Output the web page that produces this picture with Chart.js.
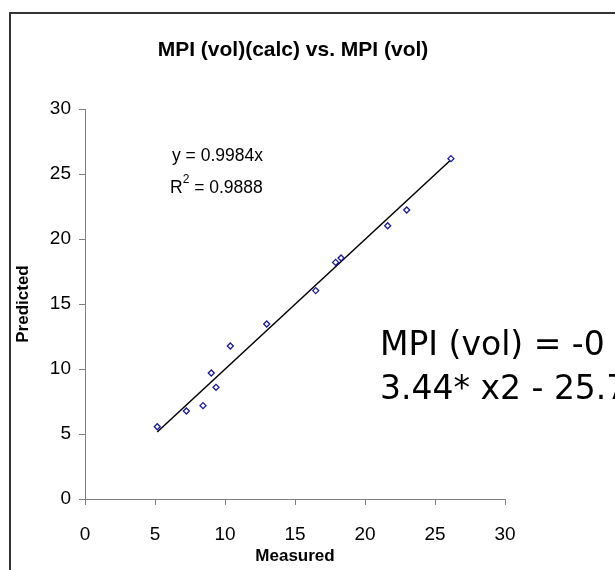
<!DOCTYPE html>
<html>
<head>
<meta charset="utf-8">
<script src="https://cdn.jsdelivr.net/npm/chart.js@4"></script>
<style>
    body { margin: 0; background: #fff; }
    #wrap { position: relative; width: 615px; height: 570px; overflow: hidden; }
</style>
</head>
<body>
<div id="wrap"><canvas id="myChart" width="615" height="570"></canvas></div>
<script>
let measured = [5.16, 7.24, 8.43, 9.02, 9.36, 10.38, 12.98, 16.48, 17.9, 18.29, 21.62, 22.98, 26.14];
let predicted = [5.56, 6.77, 7.18, 9.69, 8.59, 11.77, 13.46, 16.03, 18.2, 18.54, 21.02, 22.23, 26.18];
let trendX = [5.16, 26.14];
let trendY = [5.15, 26.1];
let tickValues = [0, 5, 10, 15, 20, 25, 30];

let chartTitle = 'MPI (vol)(calc) vs. MPI (vol)';
let trendLabel = ['y = 0.9984x', 'R', '2', ' = 0.9888'];
let modelText = ['MPI (vol) = -0', '3.44* x2 - 25.7'];

let sansFont = "'Liberation Sans', Arial, sans-serif";

function buildPoints(xs, ys) {
    let pts = [];
    for (let i = 0; i < xs.length; i++) {
        pts.push({ x: xs[i], y: ys[i] });
    }
    return pts;
}

// frame, title and the text boxes
let extrasPlugin = {
    id: 'extras',
    afterDraw(chart) {
        let c = chart.ctx;
        c.save();
        c.strokeStyle = '#333';
        c.lineWidth = 2;
        c.beginPath();
        c.moveTo(10, 640);
        c.lineTo(10, 13);
        c.lineTo(700, 13);
        c.stroke();

        c.fillStyle = '#000';
        c.textAlign = 'center';
        c.textBaseline = 'middle';
        c.font = 'bold 21px ' + sansFont;
        c.fillText(chartTitle, 293, 50);

        c.textAlign = 'left';
        c.font = '17.5px ' + sansFont;
        c.fillText(trendLabel[0], 172, 156);
        c.fillText(trendLabel[1], 170, 188);
        let rw = c.measureText(trendLabel[1]).width;
        c.font = '12px ' + sansFont;
        c.fillText(trendLabel[2], 170 + rw, 180);
        let sw = c.measureText(trendLabel[2]).width;
        c.font = '17.5px ' + sansFont;
        c.fillText(trendLabel[3], 170 + rw + sw, 188);

        c.font = '33px "DejaVu Sans", Verdana, sans-serif';
        c.fillText(modelText[0], 380, 346);
        c.fillText(modelText[1], 380, 390);
        c.restore();
    }
};

function axisOptions(fixSize) {
    return {
        type: 'linear',
        min: 0,
        max: 30,
        afterBuildTicks: s => { s.ticks = tickValues.map(v => ({ value: v })); },
        afterFit: fixSize,
        border: { display: true, color: '#808080', width: 1 },
        grid: { drawOnChartArea: false, drawTicks: true, tickLength: 6, color: '#808080' },
        ticks: { color: '#000', font: { family: sansFont, size: 19 }, padding: 8 }
    };
}

let xAxis = axisOptions(s => { s.height = 71; });
xAxis.ticks.padding = 18;
xAxis.title = { display: true, text: 'Measured', color: '#000', font: { family: sansFont, size: 17, weight: 'bold' }, padding: { top: 0, bottom: 3 } };

let yAxis = axisOptions(s => { s.width = 75; });
yAxis.title = { display: true, text: 'Predicted', color: '#000', font: { family: sansFont, size: 17, weight: 'bold' }, padding: { top: 3, bottom: 0 } };

new Chart(document.getElementById('myChart'), {
    type: 'scatter',
    data: {
        datasets: [{
            label: 'Predicted',
            data: buildPoints(measured, predicted),
            pointStyle: 'rectRot',
            pointRadius: 3,
            borderColor: '#1a1a9a',
            backgroundColor: '#fff',
            borderWidth: 1.3
        }, {
            type: 'line',
            label: 'Linear',
            data: buildPoints(trendX, trendY),
            borderColor: '#000',
            borderWidth: 1.5,
            pointRadius: 0,
            fill: false
        }]
    },
    options: {
        responsive: false,
        animation: false,
        layout: { padding: { left: 10, top: 109, right: 110, bottom: 0 } },
        plugins: {
            legend: { display: false },
            title: { display: false },
            tooltip: { enabled: false }
        },
        scales: { x: xAxis, y: yAxis }
    },
    plugins: [extrasPlugin]
});
</script>
</body>
</html>
